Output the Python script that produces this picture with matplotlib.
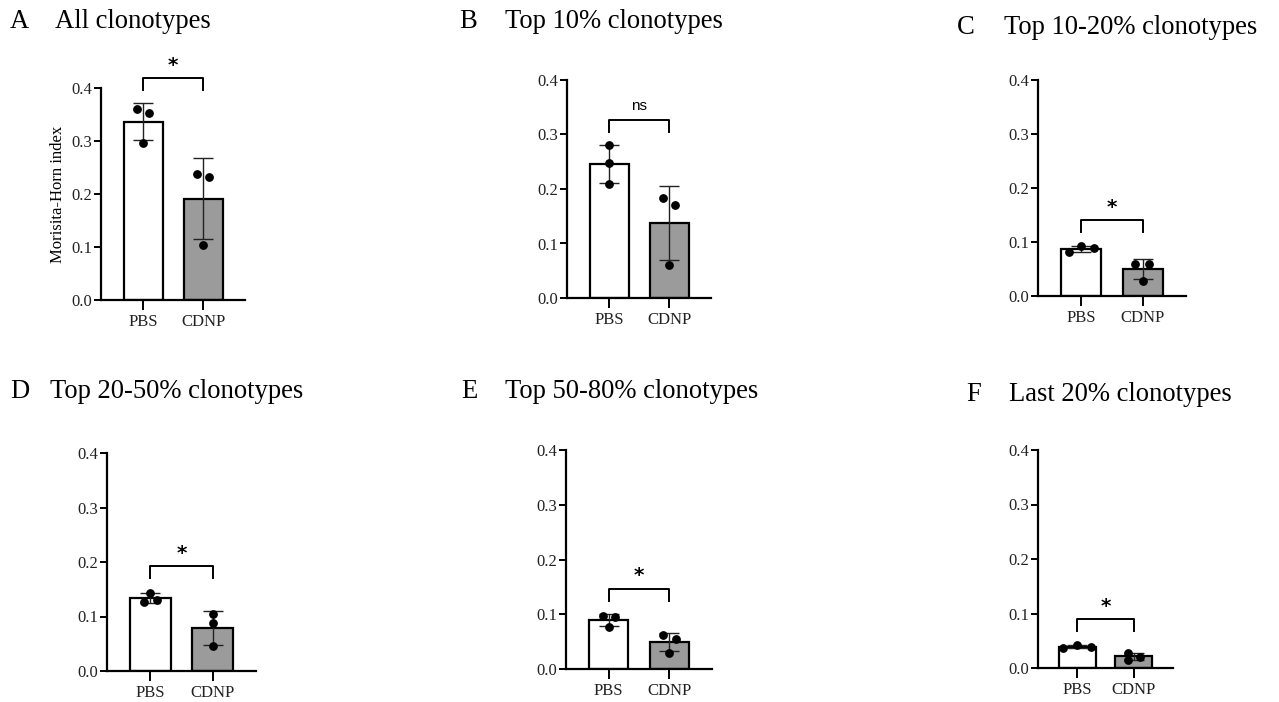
"""
Morisita-Horn index bar panels (PBS vs CDNP) for clonotype subsets
"""
import numpy as np
import matplotlib
matplotlib.use("Agg")
import matplotlib.pyplot as plt

plt.rcParams['font.family'] = ['Liberation Serif', 'DejaVu Serif']

W, H = 1279, 702

groups = ["PBS", "CDNP"]
letters = ["A", "B", "C", "D", "E", "F"]
titles = ["All clonotypes", "Top 10% clonotypes", "Top 10-20% clonotypes",
          "Top 20-50% clonotypes", "Top 50-80% clonotypes", "Last 20% clonotypes"]

# replicate values per panel
pbs_points = [
    [0.360, 0.352, 0.296],
    [0.281, 0.247, 0.210],
    [0.082, 0.093, 0.088],
    [0.127, 0.144, 0.130],
    [0.097, 0.095, 0.077],
    [0.037, 0.042, 0.038],
]
cdnp_points = [
    [0.237, 0.233, 0.104],
    [0.183, 0.171, 0.060],
    [0.060, 0.060, 0.028],
    [0.104, 0.088, 0.045],
    [0.063, 0.055, 0.030],
    [0.028, 0.015, 0.021],
]
sig_labels = ["*", "ns", "*", "*", "*", "*"]
sig_heights = [0.419, 0.327, 0.141, 0.192, 0.147, 0.0895]

# layout (pixels): axes left, right, top(0.4), bottom(0.0)
axes_px = [
    (101, 245, 88, 300),
    (567, 711, 80, 298),
    (1038, 1186, 80, 296),
    (107, 256, 453, 671),
    (566, 712, 450, 669),
    (1038, 1173, 450, 668),
]
title_px = [(10, 55, 22), (459, 505, 22), (957, 1004, 28),
            (10, 50, 392), (461, 505, 392), (966, 1009, 394)]
# horizontal spread of replicate dots
pbs_off = [[-0.1, 0.1, 0], [0, 0, 0], [-0.2, 0, 0.2],
           [-0.1, 0, 0.1], [-0.1, 0.1, 0], [-0.25, 0, 0.25]]
cdnp_off = [[-0.1, 0.1, 0], [-0.1, 0.1, 0], [-0.12, 0.1, 0],
            [0, 0, 0], [-0.1, 0.1, 0], [-0.1, -0.1, 0.12]]

fig = plt.figure(figsize=(W / 100, H / 100), dpi=100)

for i in range(6):
    l, r, t, b = axes_px[i]
    ax = fig.add_axes([l / W, 1 - b / H, (r - l) / W, (b - t) / H])
    ax.set_xlim(-0.7, 1.7)
    ax.set_ylim(0, 0.4)

    for j, (pts, off, color) in enumerate([(pbs_points[i], pbs_off[i], "white"),
                                           (cdnp_points[i], cdnp_off[i], "#9b9b9b")]):
        pts = np.array(pts)
        mean = pts.mean()
        sd = pts.std(ddof=1)
        ax.bar(j, mean, width=0.65, color=color, edgecolor="black",
               linewidth=1.6, zorder=2)
        ax.errorbar(j, mean, yerr=sd, fmt="none", ecolor="#222222",
                    elinewidth=1.0, capsize=7, capthick=1.0, zorder=3)
        ax.scatter(j + np.array(off), pts, s=28, color="black", zorder=4,
                   clip_on=False)

    # significance bracket
    y = sig_heights[i]
    drop = 0.022
    ax.plot([0, 0, 1, 1], [y - drop, y, y, y - drop], color="black",
            linewidth=1.4, clip_on=False, zorder=5)
    if sig_labels[i] == "*":
        ax.text(0.5, y + 0.006, "*", ha="center", va="bottom", fontsize=14.5,
                fontweight="bold", family="DejaVu Sans", clip_on=False)
    else:
        ax.text(0.5, y + 0.012, "ns", ha="center", va="bottom", fontsize=11,
                family="Liberation Sans", clip_on=False)

    for s in ["top", "right"]:
        ax.spines[s].set_visible(False)
    for s in ["left", "bottom"]:
        ax.spines[s].set_linewidth(1.6)
    ax.set_yticks([0.0, 0.1, 0.2, 0.3, 0.4])
    ax.set_yticklabels(["0.0", "0.1", "0.2", "0.3", "0.4"])
    ax.set_xticks([0, 1])
    ax.set_xticklabels(groups)
    ax.tick_params(axis="both", labelsize=12, labelcolor="#222222",
                   width=1.4, length=5, pad=1.5)
    ax.tick_params(axis="x", length=7, pad=3)
    if i == 0:
        ax.set_ylabel("Morisita-Horn index", fontsize=12, labelpad=4)

    lx, tx, ty = title_px[i]
    fig.text(lx / W, 1 - ty / H, letters[i], fontsize=19.2, va="center", ha="left")
    fig.text(tx / W, 1 - ty / H, titles[i], fontsize=19.2, va="center", ha="left")

fig.savefig("out.png", dpi=100)
